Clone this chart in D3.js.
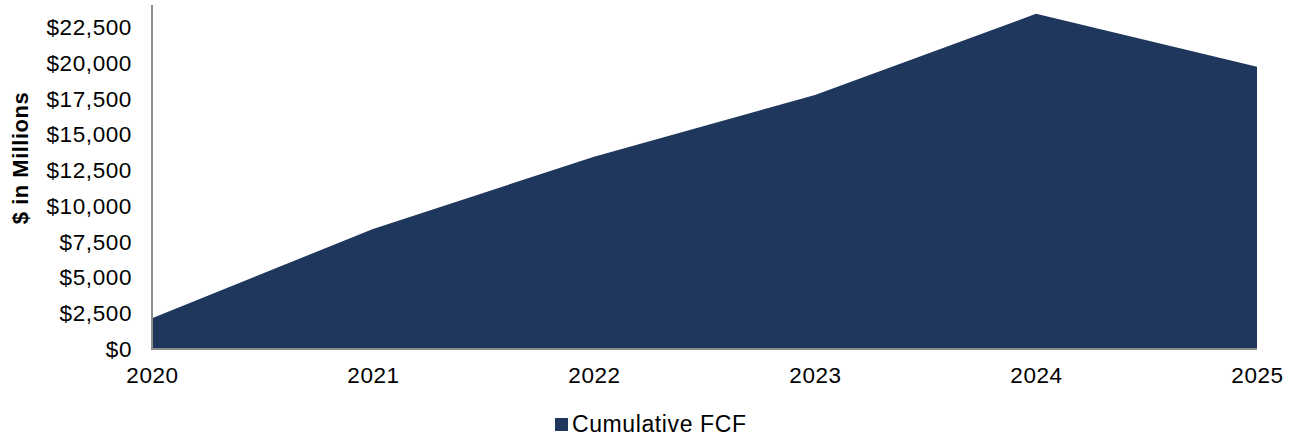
<!DOCTYPE html>
<html>
<head>
<meta charset="utf-8">
<script src="https://cdn.jsdelivr.net/npm/d3@7"></script>
<style>
  body { margin: 0; background: #fff; }
  svg { display: block; font-family: "Liberation Sans", Arial, sans-serif; }
</style>
</head>
<body>
<svg id="chart" width="1296" height="437"></svg>
<script>
// data
const years = ['2020', '2021', '2022', '2023', '2024', '2025'];
const cumulativeFcf = [2150, 8400, 13450, 17780, 23450, 19750];
const yTicks = [0, 2500, 5000, 7500, 10000, 12500, 15000, 17500, 20000, 22500];
const seriesName = 'Cumulative FCF';

const fill = '#1f375c';
const axisColor = '#8c8c8c';

const svg = d3.select('#chart');
const x0 = 152, x1 = 1257, yBase = 349, yTop = 6;

const x = d3.scalePoint().domain(years).range([x0, x1]);
const y = d3.scaleLinear().domain([0, 24000]).range([yBase, yTop]);

const rows = years.map((yr, i) => ({ year: yr, value: cumulativeFcf[i] }));

// area
const area = d3.area()
    .x(d => x(d.year))
    .y0(y(0))
    .y1(d => y(d.value));

svg.append('path')
    .datum(rows)
    .attr('d', area)
    .attr('fill', fill);

// y axis
const yAxis = d3.axisLeft(y)
    .tickValues(yTicks)
    .tickSize(0)
    .tickPadding(20)
    .tickFormat(d => '$' + d3.format(',')(d));

const gy = svg.append('g')
    .attr('transform', `translate(${x0},0)`)
    .call(yAxis);
gy.select('.domain').remove();
gy.selectAll('text')
    .attr('font-size', 22.5)
    .attr('letter-spacing', 0.6)
    .attr('fill', '#000')
    .attr('font-family', '"Liberation Sans", Arial, sans-serif');

svg.append('line')
    .attr('x1', x0).attr('x2', x0)
    .attr('y1', yTop - 1).attr('y2', yBase)
    .attr('stroke', axisColor).attr('stroke-width', 2);

// x axis
const xAxis = d3.axisBottom(x).tickSize(0).tickPadding(18);
const gx = svg.append('g')
    .attr('transform', `translate(0,${yBase})`)
    .call(xAxis);
gx.select('.domain').remove();
gx.selectAll('text')
    .attr('font-size', 22.5)
    .attr('letter-spacing', 0.6)
    .attr('fill', '#000')
    .attr('font-family', '"Liberation Sans", Arial, sans-serif');

svg.append('line')
    .attr('x1', x0 - 1).attr('x2', x1)
    .attr('y1', yBase).attr('y2', yBase)
    .attr('stroke', axisColor).attr('stroke-width', 2);

// y title
svg.append('text')
    .attr('transform', `translate(28,158) rotate(-90)`)
    .attr('text-anchor', 'middle')
    .attr('font-size', 22)
    .attr('letter-spacing', 0.5)
    .attr('font-weight', 'bold')
    .text('$ in Millions');

// legend
const lg = svg.append('g').attr('transform', 'translate(555,418)');
lg.append('rect')
    .attr('width', 13).attr('height', 13)
    .attr('fill', fill);
lg.append('text')
    .attr('x', 17).attr('y', 14)
    .attr('font-size', 23)
    .attr('letter-spacing', 0.6)
    .text(seriesName);
</script>
</body>
</html>
